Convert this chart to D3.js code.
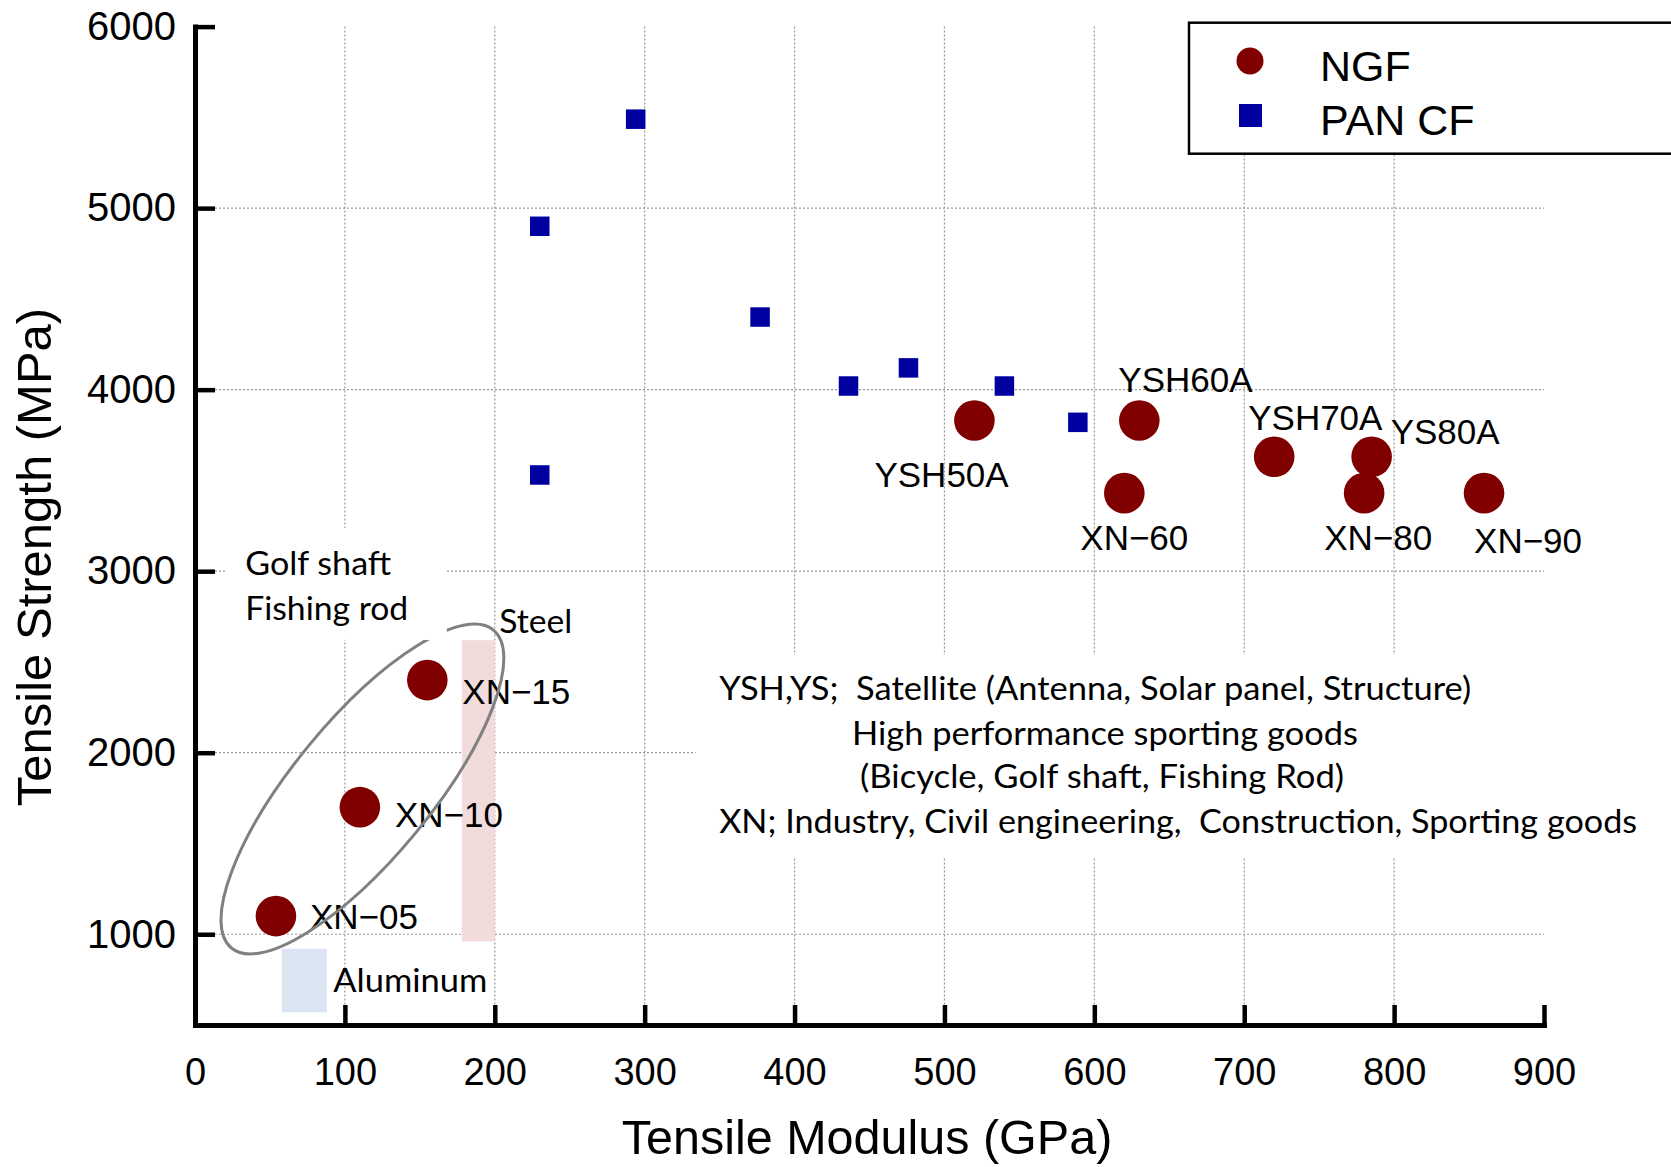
<!DOCTYPE html>
<html>
<head>
<meta charset="utf-8">
<script src="https://cdn.jsdelivr.net/npm/d3@7"></script>
<style>
  body { margin: 0; background: #fff; }
  svg { display: block; }
  .lbl { font-family: "Liberation Sans", Arial, sans-serif; }
  .note { font-family: Lato, "Open Sans", sans-serif; white-space: pre; }
</style>
</head>
<body>
<div id="chart"></div>
<script>
// values
var ngfNames = ["XN-05", "XN-10", "XN-15", "YSH50A", "YSH60A", "XN-60", "YSH70A", "YS80A", "XN-80", "XN-90"];
var ngfModulus = [54, 110, 155, 520, 630, 620, 720, 785, 780, 860];
var ngfStrength = [1100, 1700, 2400, 3830, 3830, 3430, 3630, 3630, 3430, 3430];

var panModulus = [294, 230, 377, 436, 476, 540, 589, 230];
var panStrength = [5490, 4900, 4400, 4020, 4120, 4020, 3820, 3530];

var xTicks = [0, 100, 200, 300, 400, 500, 600, 700, 800, 900];
var yTicks = [1000, 2000, 3000, 4000, 5000, 6000];

var steelRange = { x: [178, 200], y: [960, 2620] };
var aluminumRange = { x: [58, 88], y: [570, 920] };

var noteLines = [
  "YSH,YS;  Satellite (Antenna, Solar panel, Structure)",
  "High performance sporting goods",
  "(Bicycle, Golf shaft, Fishing Rod)",
  "XN; Industry, Civil engineering,  Construction, Sporting goods"
];

// label offsets from each NGF point, in pixels
var labelOffset = {
  "XN-05": [34, 13], "XN-10": [35, 20], "XN-15": [35, 24],
  "YSH50A": [-100, 66], "YSH60A": [-21, -29], "XN-60": [-44, 57],
  "YSH70A": [-26, -27], "YS80A": [19, -13], "XN-80": [-40, 57], "XN-90": [-10, 60]
};

var svgWidth = 1671;
var svgHeight = 1167;

var svg = d3.select("#chart")
  .append("svg")
  .attr("width", svgWidth)
  .attr("height", svgHeight);

var x = d3.scaleLinear().domain([0, 900]).range([195, 1544]);
var y = d3.scaleLinear().domain([500, 6000]).range([1025, 26.6]);

// grid
svg.append("g").selectAll("line")
  .data(yTicks.filter(function(d) { return d < 6000; }))
  .enter().append("line")
  .attr("x1", x(0)).attr("x2", x(900))
  .attr("y1", function(d) { return y(d); })
  .attr("y2", function(d) { return y(d); })
  .attr("stroke", "#999").attr("stroke-width", 1.2)
  .attr("stroke-dasharray", "2,2");

svg.append("g").selectAll("line")
  .data(xTicks.filter(function(d) { return d > 0 && d < 900; }))
  .enter().append("line")
  .attr("y1", y(6000)).attr("y2", y(500))
  .attr("x1", function(d) { return x(d); })
  .attr("x2", function(d) { return x(d); })
  .attr("stroke", "#999").attr("stroke-width", 1.2)
  .attr("stroke-dasharray", "2,2");

// material bands
svg.append("rect")
  .attr("x", x(steelRange.x[0]))
  .attr("width", x(steelRange.x[1]) - x(steelRange.x[0]))
  .attr("y", y(steelRange.y[1]))
  .attr("height", y(steelRange.y[0]) - y(steelRange.y[1]))
  .attr("fill", "#f2dcdb");

svg.append("rect")
  .attr("x", x(aluminumRange.x[0]))
  .attr("width", x(aluminumRange.x[1]) - x(aluminumRange.x[0]))
  .attr("y", y(aluminumRange.y[1]))
  .attr("height", y(aluminumRange.y[0]) - y(aluminumRange.y[1]))
  .attr("fill", "#dce6f2");

// white box behind the long note
svg.append("rect")
  .attr("x", x(334)).attr("y", y(2539))
  .attr("width", x(980) - x(334)).attr("height", y(1420) - y(2539))
  .attr("fill", "#fff");

// PAN CF
var sq = 19.5;
svg.append("g").selectAll("rect")
  .data(panModulus)
  .enter().append("rect")
  .attr("x", function(d) { return x(d) - sq / 2; })
  .attr("y", function(d, i) { return y(panStrength[i]) - sq / 2; })
  .attr("width", sq).attr("height", sq)
  .attr("fill", "#0000a0");

// NGF
svg.append("g").selectAll("circle")
  .data(ngfModulus)
  .enter().append("circle")
  .attr("cx", function(d) { return x(d); })
  .attr("cy", function(d, i) { return y(ngfStrength[i]); })
  .attr("r", 20.3)
  .attr("fill", "#800000");

svg.append("g").selectAll("text")
  .data(ngfNames)
  .enter().append("text")
  .attr("class", "lbl")
  .attr("x", function(d, i) { return x(ngfModulus[i]) + labelOffset[d][0]; })
  .attr("y", function(d, i) { return y(ngfStrength[i]) + labelOffset[d][1]; })
  .attr("font-size", 35)
  .text(function(d) { return d.replace("-", "\u2212"); });

// ring around the XN low grades, over the labels
svg.append("ellipse")
  .attr("transform", "translate(" + x(111.7) + "," + y(1800) + ") rotate(-50.5)")
  .attr("rx", 206).attr("ry", 69)
  .attr("fill", "none")
  .attr("stroke", "#808080")
  .attr("stroke-width", 3);

// white box behind golf note (cuts the ring top)
svg.append("rect")
  .attr("x", x(20)).attr("y", y(3238))
  .attr("width", x(168) - x(20)).attr("height", y(2621) - y(3238))
  .attr("fill", "#fff");

// notes
function note(txt, dx, dy, len, size) {
  svg.append("text")
    .attr("class", "note")
    .attr("x", x(dx)).attr("y", y(dy))
    .attr("font-size", size)
    .attr("textLength", len)
    .attr("lengthAdjust", "spacingAndGlyphs")
    .text(txt);
}
note("Golf shaft", 33.5, 2980, 146, 32);
note("Fishing rod", 33.5, 2730, 163, 32);
note("Steel", 203, 2660, 73, 32);
note("Aluminum", 92.3, 680, 154, 32);

var noteX = [349.7, 438.3, 443.7, 349.7];
var noteY = [2290, 2043, 1804, 1556];
var noteLen = [752, 506, 484, 918];
noteLines.forEach(function(t, i) {
  note(t, noteX[i], noteY[i], noteLen[i], 32);
});

// axes
var yAxis = svg.append("g")
  .attr("transform", "translate(" + x(0) + ",0)")
  .call(d3.axisLeft(y).tickValues(yTicks).tickFormat(d3.format("d"))
    .tickSizeInner(-20).tickSizeOuter(0).tickPadding(19));

var xAxis = svg.append("g")
  .attr("transform", "translate(0," + y(500) + ")")
  .call(d3.axisBottom(x).tickValues(xTicks).tickFormat(d3.format("d"))
    .tickSizeInner(-20).tickSizeOuter(0).tickPadding(33));

[yAxis, xAxis].forEach(function(a) {
  a.select(".domain").attr("stroke-width", 5).attr("stroke-linecap", "square");
  a.selectAll(".tick line").attr("stroke-width", 4.5);
  a.selectAll(".tick text")
    .attr("fill", "#000")
    .attr("font-family", "'Liberation Sans', Arial, sans-serif");
});
yAxis.selectAll(".tick text").attr("font-size", 40);
xAxis.selectAll(".tick text").attr("font-size", 38);

svg.append("text")
  .attr("class", "lbl")
  .attr("x", 867).attr("y", 1154)
  .attr("text-anchor", "middle")
  .attr("font-size", 48.5)
  .text("Tensile Modulus (GPa)");

svg.append("text")
  .attr("class", "lbl")
  .attr("transform", "translate(51,557) rotate(-90)")
  .attr("text-anchor", "middle")
  .attr("font-size", 49)
  .text("Tensile Strength (MPa)");

// legend
var legend = svg.append("g");
legend.append("rect")
  .attr("x", 1189).attr("y", 22.7)
  .attr("width", 520).attr("height", 131)
  .attr("fill", "#fff").attr("stroke", "#000").attr("stroke-width", 2.5);
legend.append("circle")
  .attr("cx", 1250).attr("cy", 61).attr("r", 13.5)
  .attr("fill", "#800000");
legend.append("rect")
  .attr("x", 1239).attr("y", 104).attr("width", 23).attr("height", 23)
  .attr("fill", "#0000a0");
legend.append("text").attr("class", "lbl")
  .attr("x", 1320).attr("y", 81).attr("font-size", 43).text("NGF");
legend.append("text").attr("class", "lbl")
  .attr("x", 1320).attr("y", 135).attr("font-size", 43).text("PAN CF");
</script>
</body>
</html>
